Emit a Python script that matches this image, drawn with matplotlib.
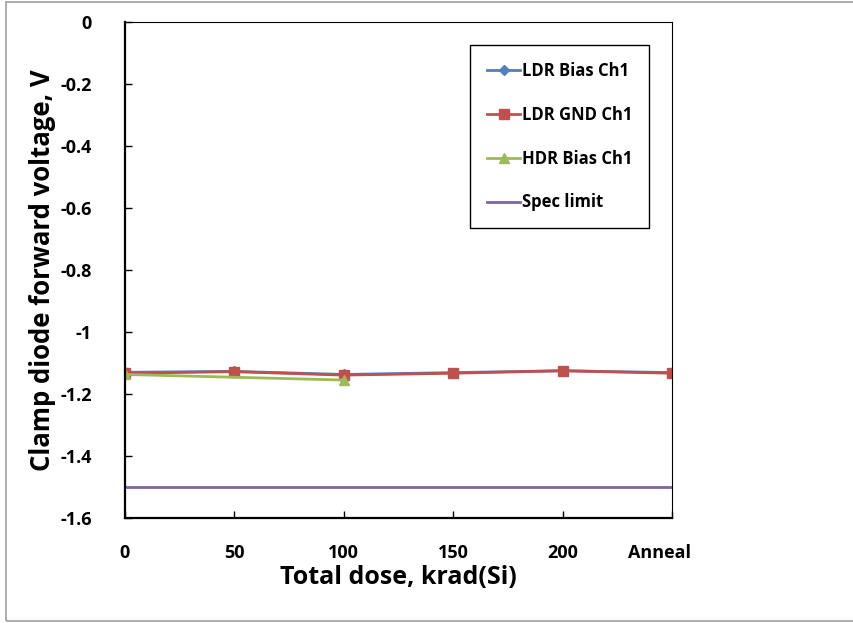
import numpy as np
import matplotlib.pyplot as plt
import matplotlib.transforms as mtransforms
from matplotlib.patches import Rectangle

# data
dose = [0, 50, 100, 150, 200, 250]
xtick_labels = ['0', '50', '100', '150', '200', 'Anneal']
ldr_bias = [-1.130, -1.127, -1.137, -1.131, -1.125, -1.131]
ldr_gnd = [-1.133, -1.128, -1.139, -1.133, -1.125, -1.133]
hdr_dose = [0, 100]
hdr_bias = [-1.137, -1.155]
spec_x = [0, 250]
spec_limit = [-1.5, -1.5]

plt.rcParams['font.family'] = ['Open Sans', 'DejaVu Sans']
plt.rcParams['font.weight'] = 'bold'

fig = plt.figure(figsize=(8.54, 6.23), dpi=100)
ax = fig.add_axes([125 / 854, 1 - 518 / 623, (672 - 125) / 854, (518 - 22) / 623])

ax.plot(dose, ldr_bias, color='#4F81BD', marker='D', markersize=5, lw=2, label='LDR Bias Ch1')
ax.plot(dose, ldr_gnd, color='#C0504D', marker='s', markersize=7, lw=2, label='LDR GND Ch1')
ax.plot(hdr_dose, hdr_bias, color='#9BBB59', marker='^', markersize=7, lw=2, label='HDR Bias Ch1')
ax.plot(spec_x, spec_limit, color='#8064A2', lw=2, label='Spec limit')

ax.set_xlim(0, 250)
ax.set_ylim(-1.6, 0)
ax.set_xticks(dose)
ax.set_xticklabels(xtick_labels)
ax.set_yticks(np.arange(-1.6, 0.01, 0.2))
ax.set_yticklabels(['-1.6', '-1.4', '-1.2', '-1', '-0.8', '-0.6', '-0.4', '-0.2', '0'])
ax.tick_params(direction='in', length=5, width=1, labelsize=13)
ax.tick_params(axis='x', pad=19)
ax.tick_params(axis='y', pad=24)
for lbl in ax.get_xticklabels() + ax.get_yticklabels():
    lbl.set_fontweight('bold')
# "Anneal" sits a little left of its tick
anneal = ax.get_xticklabels()[-1]
anneal.set_transform(anneal.get_transform() +
                     mtransforms.ScaledTranslation(-12 / 100, 0, fig.dpi_scale_trans))
for side in ['left', 'bottom']:
    ax.spines[side].set_linewidth(1.6)
for side in ['top', 'right']:
    ax.spines[side].set_linewidth(0.8)

ax.set_xlabel('Total dose, krad(Si)', fontsize=18, fontweight='bold', labelpad=2)
ax.set_ylabel('Clamp diode forward voltage, V', fontsize=18.5, fontweight='bold', labelpad=3)

leg = ax.legend(loc='upper right', bbox_to_anchor=(0.973, 0.97),
                prop={'size': 12, 'weight': 'bold'},
                labelspacing=1.55, handlelength=2.0, handletextpad=0.1,
                borderpad=1.0, fancybox=False, edgecolor='black', framealpha=1)
leg.get_frame().set_linewidth(1.0)

# grey frame around the figure
fig.patches.append(Rectangle((6 / 854, 2 / 623), 1.0, 1 - 4 / 623, transform=fig.transFigure,
                             fill=False, edgecolor='#A0A0A0', lw=1.2))

fig.savefig('out.png', dpi=100)
